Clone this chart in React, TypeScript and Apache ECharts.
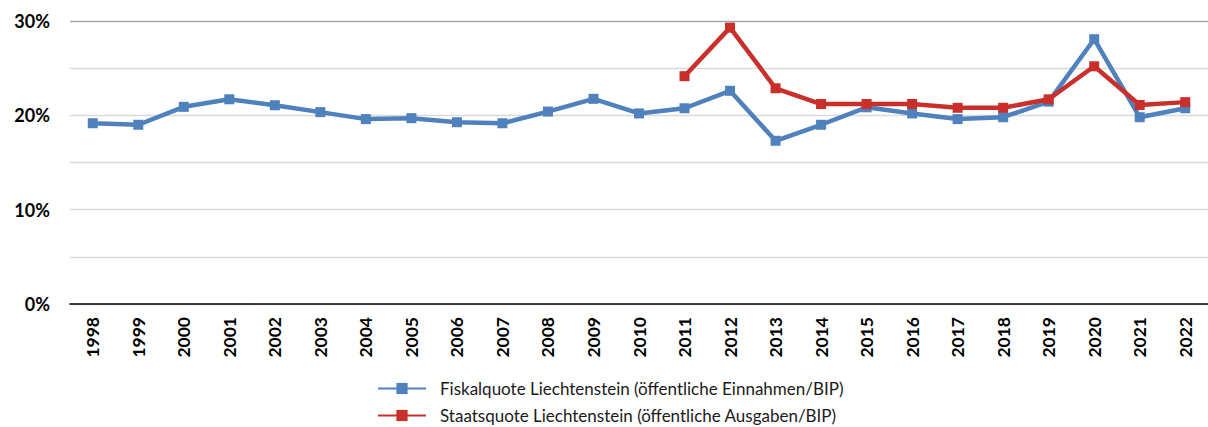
import React, { useEffect, useRef } from "react";
import * as echarts from "echarts";

const years = [
  "1998", "1999", "2000", "2001", "2002", "2003", "2004", "2005", "2006",
  "2007", "2008", "2009", "2010", "2011", "2012", "2013", "2014", "2015",
  "2016", "2017", "2018", "2019", "2020", "2021", "2022",
];

const fiskalquote = [
  19.16, 19.0, 20.9, 21.7, 21.07, 20.34, 19.6, 19.7, 19.27, 19.16, 20.4,
  21.75, 20.2, 20.75, 22.6, 17.3, 19.0, 20.85, 20.2, 19.6, 19.8, 21.45,
  28.07, 19.8, 20.75,
];

const staatsquote: (number | null)[] = [
  null, null, null, null, null, null, null, null, null, null, null, null,
  null, 24.15, 29.3, 22.87, 21.2, 21.2, 21.2, 20.8, 20.8, 21.7, 25.2, 21.1,
  21.4,
];

const seriesNames = [
  "Fiskalquote Liechtenstein (öffentliche Einnahmen/BIP)",
  "Staatsquote Liechtenstein (öffentliche Ausgaben/BIP)",
];

const BLUE = "#4F81BD";
const RED = "#C9302C";

const legendBase = {
  orient: "horizontal",
  left: 377,
  padding: 0,
  itemWidth: 48,
  itemHeight: 14,
  textStyle: {
    fontFamily: "Lato",
    fontSize: 17,
    color: "#1a1a1a",
    padding: [0, 0, 0, 9],
  },
};

export default function App() {
  const ref = useRef<HTMLDivElement>(null);

  useEffect(() => {
    document.body.style.margin = "0";
    if (!ref.current) return;
    const chart = echarts.init(ref.current, undefined, { renderer: "svg" });
    chart.setOption({
      animation: false,
      backgroundColor: "#ffffff",
      grid: { left: 70, right: 0, top: 21, bottom: 123, containLabel: false },
      legend: [
        { ...legendBase, top: 380, data: [seriesNames[0]] },
        { ...legendBase, top: 407, data: [seriesNames[1]] },
      ],
      xAxis: {
        type: "category",
        data: years,
        boundaryGap: true,
        axisLine: { show: true, lineStyle: { color: "#000000", width: 1.5 } },
        axisTick: { show: false },
        axisLabel: {
          rotate: 90,
          margin: 13,
          interval: 0,
          fontFamily: "Lato",
          fontWeight: "bold",
          fontSize: 17.5,
          color: "#000000",
        },
      },
      yAxis: {
        type: "value",
        min: 0,
        max: 30,
        interval: 5,
        axisLine: { show: false },
        axisTick: { show: false },
        axisLabel: {
          margin: 20,
          fontFamily: "Lato",
          fontWeight: "bold",
          fontSize: 18,
          color: "#000000",
          formatter: (v: number) => (v % 10 === 0 ? v + "%" : ""),
        },
        splitLine: {
          show: true,
          lineStyle: {
            color: ["#d9d9d9", "#d9d9d9", "#d9d9d9", "#d9d9d9", "#d9d9d9", "#d9d9d9", "#a6a6a6"],
            width: 1.3,
          },
        },
      },
      series: [
        {
          name: seriesNames[0],
          type: "line",
          data: fiskalquote,
          symbol: "rect",
          symbolSize: 10,
          lineStyle: { color: BLUE, width: 4.5 },
          itemStyle: { color: BLUE },
          z: 2,
        },
        {
          name: seriesNames[1],
          type: "line",
          data: staatsquote,
          symbol: "rect",
          symbolSize: 10,
          connectNulls: false,
          lineStyle: { color: RED, width: 4.5 },
          itemStyle: { color: RED },
          z: 3,
        },
      ],
    });
    return () => chart.dispose();
  }, []);

  return <div ref={ref} style={{ width: 1208, height: 427 }} />;
}
